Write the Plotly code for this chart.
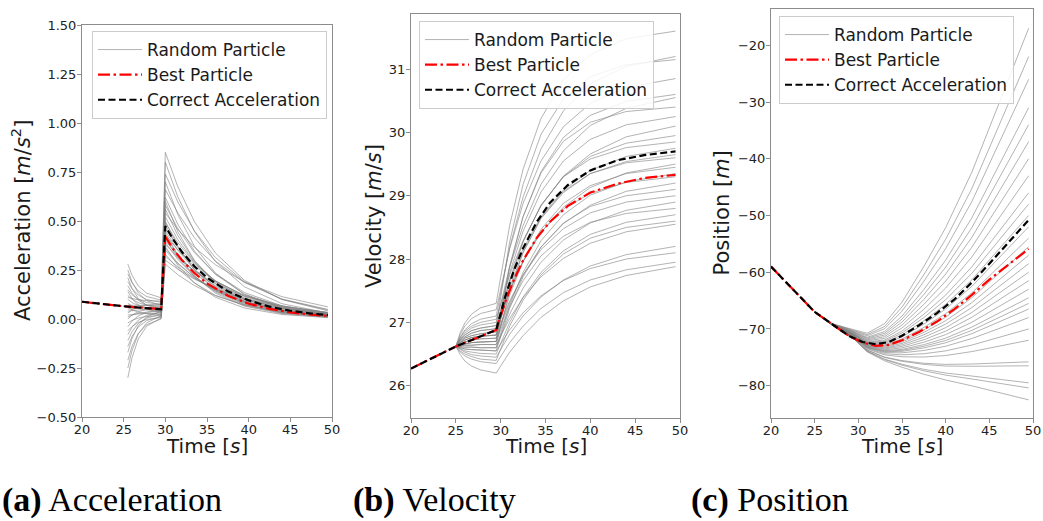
import plotly.graph_objects as go

W, H = 1043, 521

# ---------------- data ----------------
TIME_TICKS = [20, 25, 30, 35, 40, 45, 50]

# (a) Acceleration
ACC_TIME = [20, 25, 29.5, 30, 31, 32, 33.5, 35, 37.5, 40, 42.5, 45, 47.5, 49.5]
ACC_CORRECT = [0.088, 0.065, 0.049, 0.474, 0.402, 0.342, 0.268, 0.211, 0.141, 0.095, 0.063, 0.042, 0.028, 0.020]
ACC_BEST = [0.088, 0.065, 0.050, 0.420, 0.354, 0.300, 0.234, 0.182, 0.119, 0.078, 0.052, 0.034, 0.022, 0.016]
ACC_RANDOM_TIME = [25.5, 26, 26.75, 27.75, 29.5, 30, 31.5, 33.5, 36, 39.5, 44, 49.5]
ACC_RANDOM = [
    [0.28, 0.223, 0.169, 0.132, 0.108, 0.85, 0.675, 0.496, 0.337, 0.197, 0.099, 0.042],
    [0.25, 0.189, 0.133, 0.094, 0.069, 0.80, 0.623, 0.446, 0.294, 0.164, 0.078, 0.031],
    [0.23, 0.185, 0.143, 0.115, 0.096, 0.74, 0.597, 0.449, 0.314, 0.190, 0.100, 0.046],
    [0.21, 0.156, 0.105, 0.070, 0.048, 0.70, 0.533, 0.370, 0.235, 0.125, 0.055, 0.020],
    [0.19, 0.155, 0.122, 0.099, 0.085, 0.66, 0.541, 0.414, 0.296, 0.186, 0.102, 0.049],
    [0.17, 0.132, 0.096, 0.071, 0.056, 0.62, 0.483, 0.346, 0.228, 0.127, 0.060, 0.024],
    [0.15, 0.124, 0.101, 0.084, 0.074, 0.60, 0.445, 0.298, 0.181, 0.090, 0.037, 0.012],
    [0.14, 0.105, 0.072, 0.049, 0.035, 0.58, 0.461, 0.338, 0.230, 0.135, 0.067, 0.029],
    [0.12, 0.101, 0.083, 0.071, 0.063, 0.56, 0.426, 0.296, 0.188, 0.100, 0.044, 0.016],
    [0.11, 0.104, 0.098, 0.094, 0.091, 0.54, 0.457, 0.366, 0.277, 0.188, 0.114, 0.062],
    [0.10, 0.084, 0.069, 0.059, 0.052, 0.52, 0.405, 0.290, 0.191, 0.107, 0.050, 0.020],
    [0.08, 0.067, 0.055, 0.047, 0.042, 0.50, 0.371, 0.249, 0.151, 0.075, 0.031, 0.010],
    [0.07, 0.070, 0.070, 0.070, 0.070, 0.49, 0.389, 0.286, 0.195, 0.114, 0.057, 0.025],
    [0.06, 0.047, 0.035, 0.027, 0.022, 0.48, 0.365, 0.254, 0.161, 0.085, 0.037, 0.014],
    [0.05, 0.053, 0.056, 0.058, 0.060, 0.46, 0.371, 0.279, 0.195, 0.118, 0.062, 0.028],
    [0.04, 0.043, 0.046, 0.048, 0.050, 0.45, 0.351, 0.251, 0.166, 0.092, 0.044, 0.018],
    [0.03, 0.046, 0.061, 0.071, 0.078, 0.44, 0.326, 0.219, 0.132, 0.066, 0.027, 0.009],
    [0.02, 0.023, 0.026, 0.028, 0.030, 0.43, 0.352, 0.270, 0.193, 0.121, 0.067, 0.032],
    [0.01, 0.020, 0.029, 0.035, 0.039, 0.42, 0.327, 0.234, 0.155, 0.086, 0.041, 0.016],
    [0.00, 0.019, 0.037, 0.049, 0.057, 0.41, 0.312, 0.217, 0.138, 0.073, 0.032, 0.012],
    [-0.02, -0.007, 0.005, 0.013, 0.018, 0.40, 0.323, 0.243, 0.170, 0.103, 0.054, 0.025],
    [-0.04, -0.011, 0.016, 0.034, 0.046, 0.39, 0.304, 0.218, 0.144, 0.080, 0.038, 0.015],
    [-0.06, -0.038, -0.017, -0.002, 0.007, 0.38, 0.315, 0.245, 0.179, 0.116, 0.066, 0.033],
    [-0.08, -0.042, -0.006, 0.019, 0.034, 0.37, 0.274, 0.184, 0.111, 0.056, 0.023, 0.007],
    [-0.11, -0.065, -0.023, 0.005, 0.024, 0.36, 0.286, 0.210, 0.143, 0.084, 0.042, 0.018],
    [-0.14, -0.089, -0.041, -0.008, 0.013, 0.35, 0.282, 0.212, 0.148, 0.090, 0.047, 0.022],
    [-0.17, -0.100, -0.034, 0.011, 0.040, 0.33, 0.257, 0.184, 0.121, 0.068, 0.032, 0.013],
    [-0.21, -0.140, -0.074, -0.029, 0.000, 0.32, 0.265, 0.207, 0.151, 0.098, 0.056, 0.028],
    [-0.25, -0.161, -0.077, -0.020, 0.017, 0.30, 0.254, 0.203, 0.154, 0.104, 0.063, 0.034],
    [-0.30, -0.198, -0.102, -0.037, 0.005, 0.28, 0.226, 0.170, 0.119, 0.072, 0.038, 0.017],
]
ACC_TICKS = [-0.5, -0.25, 0.0, 0.25, 0.5, 0.75, 1.0, 1.25, 1.5]
ACC_TICKTEXT = ["\u22120.50", "\u22120.25", "0.00", "0.25", "0.50", "0.75", "1.00", "1.25", "1.50"]

# (b) Velocity
VEL_TIME = [20, 25, 29.5, 30.5, 31.5, 32.5, 34, 35.5, 37.5, 40, 43, 46, 49.5]
VEL_CORRECT = [26.27, 26.62, 26.88, 27.40, 27.83, 28.17, 28.58, 28.89, 29.17, 29.40, 29.56, 29.64, 29.70]
VEL_BEST = [26.27, 26.62, 26.88, 27.32, 27.68, 27.98, 28.33, 28.59, 28.84, 29.05, 29.19, 29.28, 29.33]
VEL_RANDOM_TIME = [25, 25.5, 26, 26.75, 27.75, 29.5, 31, 32.5, 34.5, 37, 40, 44, 49.5]
VEL_RANDOM = [
    [26.62, 26.84, 26.99, 27.13, 27.23, 27.30, 28.53, 29.42, 30.22, 30.83, 31.23, 31.48, 31.60],
    [26.62, 26.77, 26.88, 26.98, 27.05, 27.10, 28.18, 28.98, 29.74, 30.34, 30.77, 31.04, 31.20],
    [26.62, 26.73, 26.80, 26.87, 26.91, 26.95, 28.27, 29.18, 29.97, 30.53, 30.88, 31.07, 31.15],
    [26.62, 26.81, 26.94, 27.06, 27.14, 27.20, 28.16, 28.88, 29.55, 30.09, 30.46, 30.71, 30.85],
    [26.62, 26.68, 26.72, 26.76, 26.78, 26.80, 27.89, 28.67, 29.38, 29.92, 30.27, 30.49, 30.60],
    [26.62, 26.74, 26.83, 26.91, 26.96, 27.00, 27.87, 28.53, 29.18, 29.71, 30.11, 30.38, 30.55],
    [26.62, 26.65, 26.66, 26.68, 26.69, 26.70, 27.87, 28.67, 29.36, 29.86, 30.16, 30.33, 30.40],
    [26.62, 26.71, 26.77, 26.83, 26.87, 26.90, 27.78, 28.44, 29.06, 29.55, 29.89, 30.12, 30.25],
    [26.62, 26.76, 26.86, 26.94, 27.00, 27.05, 27.75, 28.29, 28.84, 29.31, 29.66, 29.93, 30.10],
    [26.62, 26.69, 26.75, 26.79, 26.82, 26.85, 27.67, 28.27, 28.85, 29.30, 29.62, 29.83, 29.95],
    [26.62, 26.66, 26.69, 26.72, 26.74, 26.75, 27.64, 28.28, 28.85, 29.30, 29.58, 29.76, 29.85],
    [26.62, 26.73, 26.80, 26.87, 26.91, 26.95, 27.64, 28.16, 28.67, 29.09, 29.40, 29.62, 29.75],
    [26.62, 26.68, 26.72, 26.76, 26.78, 26.80, 27.55, 28.11, 28.64, 29.05, 29.35, 29.54, 29.65],
    [26.62, 26.63, 26.64, 26.64, 26.65, 26.65, 27.49, 28.10, 28.65, 29.07, 29.35, 29.52, 29.60],
    [26.62, 26.71, 26.77, 26.83, 26.87, 26.90, 27.50, 27.96, 28.42, 28.82, 29.13, 29.36, 29.50],
    [26.62, 26.65, 26.66, 26.68, 26.69, 26.70, 27.43, 27.96, 28.47, 28.88, 29.16, 29.35, 29.45],
    [26.62, 26.61, 26.61, 26.61, 26.60, 26.60, 27.27, 27.79, 28.29, 28.70, 29.01, 29.22, 29.35],
    [26.62, 26.69, 26.75, 26.79, 26.82, 26.85, 27.50, 27.97, 28.43, 28.79, 29.04, 29.21, 29.30],
    [26.62, 26.66, 26.69, 26.72, 26.74, 26.75, 27.31, 27.75, 28.19, 28.56, 28.85, 29.07, 29.20],
    [26.62, 26.60, 26.58, 26.57, 26.56, 26.55, 27.22, 27.72, 28.19, 28.57, 28.83, 29.00, 29.10],
    [26.62, 26.68, 26.72, 26.76, 26.78, 26.80, 27.34, 27.75, 28.15, 28.48, 28.73, 28.90, 29.00],
    [26.62, 26.61, 26.61, 26.61, 26.60, 26.60, 27.13, 27.54, 27.95, 28.30, 28.57, 28.77, 28.90],
    [26.62, 26.65, 26.66, 26.68, 26.69, 26.70, 27.25, 27.66, 28.05, 28.36, 28.58, 28.72, 28.80],
    [26.62, 26.58, 26.55, 26.53, 26.51, 26.50, 27.00, 27.40, 27.79, 28.13, 28.39, 28.58, 28.70],
    [26.62, 26.63, 26.64, 26.64, 26.65, 26.65, 27.06, 27.39, 27.72, 28.01, 28.25, 28.43, 28.55],
    [26.62, 26.57, 26.53, 26.49, 26.47, 26.45, 26.81, 27.10, 27.40, 27.67, 27.89, 28.07, 28.20],
    [26.62, 26.60, 26.58, 26.57, 26.56, 26.55, 26.88, 27.15, 27.42, 27.66, 27.85, 28.00, 28.10],
    [26.62, 26.53, 26.47, 26.42, 26.38, 26.35, 26.68, 26.94, 27.22, 27.47, 27.67, 27.83, 27.95],
    [26.62, 26.49, 26.39, 26.31, 26.25, 26.20, 26.53, 26.79, 27.08, 27.34, 27.56, 27.74, 27.88],
    [26.62, 26.55, 26.50, 26.46, 26.42, 26.40, 26.94, 27.35, 27.75, 28.08, 28.33, 28.50, 28.60],
]
VEL_TICKS = [26, 27, 28, 29, 30, 31]

# (c) Position
POS_TIME = [20, 22.5, 25, 27.5, 29, 30.5, 32, 33.5, 35, 37, 39, 41, 43, 45, 47, 49.5]
POS_CORRECT = [-59.0, -63.0, -67.0, -69.7, -71.3, -72.3, -72.7, -72.3, -71.2, -69.3, -67.2, -64.8, -61.8, -58.5, -55.1, -50.8]
POS_BEST = [-59.0, -63.0, -67.0, -69.7, -71.3, -72.4, -73.0, -72.8, -72.0, -70.5, -68.7, -66.5, -64.0, -61.3, -58.9, -55.9]
POS_RANDOM_TIME = [25, 27, 29.5, 31, 33, 35, 37.5, 40, 43, 46, 49.5]
POS_RANDOM = [
    [-67.0, -69.06, -70.15, -70.76, -69.07, -65.28, -59.00, -52.14, -42.36, -30.77, -17.0],
    [-67.0, -69.08, -70.28, -71.01, -69.57, -66.16, -60.45, -54.19, -45.24, -34.62, -22.0],
    [-67.0, -69.10, -70.38, -71.21, -69.97, -66.86, -61.61, -55.83, -47.54, -37.70, -26.0],
    [-67.0, -69.12, -70.50, -71.46, -70.47, -67.73, -63.06, -57.88, -50.41, -41.55, -31.0],
    [-67.0, -69.13, -70.58, -71.61, -70.77, -68.26, -63.93, -59.11, -52.14, -43.86, -34.0],
    [-67.0, -69.14, -70.65, -71.76, -71.07, -68.78, -64.80, -60.34, -53.86, -46.17, -37.0],
    [-67.0, -69.16, -70.73, -71.91, -71.37, -69.31, -65.67, -61.57, -55.59, -48.48, -40.0],
    [-67.0, -69.17, -70.80, -72.06, -71.67, -69.83, -66.54, -62.80, -57.31, -50.79, -43.0],
    [-67.0, -69.18, -70.88, -72.21, -71.97, -70.36, -67.41, -64.03, -59.04, -53.10, -46.0],
    [-67.0, -69.19, -70.93, -72.31, -72.17, -70.71, -67.99, -64.85, -60.19, -54.64, -48.0],
    [-67.0, -69.20, -70.98, -72.41, -72.37, -71.06, -68.57, -65.67, -61.34, -56.18, -50.0],
    [-67.0, -69.20, -71.03, -72.51, -72.57, -71.41, -69.15, -66.49, -62.49, -57.72, -52.0],
    [-67.0, -69.21, -71.08, -72.61, -72.77, -71.76, -69.73, -67.31, -63.64, -59.26, -54.0],
    [-67.0, -69.22, -71.12, -72.69, -72.92, -72.02, -70.16, -67.93, -64.50, -60.42, -55.5],
    [-67.0, -69.22, -71.16, -72.76, -73.07, -72.29, -70.60, -68.54, -65.37, -61.57, -57.0],
    [-67.0, -69.23, -71.19, -72.84, -73.22, -72.55, -71.03, -69.16, -66.23, -62.73, -58.5],
    [-67.0, -69.24, -71.23, -72.91, -73.37, -72.81, -71.47, -69.77, -67.09, -63.88, -60.0],
    [-67.0, -69.24, -71.27, -72.99, -73.52, -73.07, -71.90, -70.39, -67.95, -65.04, -61.5],
    [-67.0, -69.25, -71.31, -73.06, -73.67, -73.34, -72.34, -71.00, -68.82, -66.19, -63.0],
    [-67.0, -69.25, -71.34, -73.14, -73.82, -73.60, -72.77, -71.62, -69.68, -67.35, -64.5],
    [-67.0, -69.26, -71.37, -73.19, -73.92, -73.77, -73.06, -72.03, -70.25, -68.12, -65.5],
    [-67.0, -69.26, -71.39, -73.24, -74.02, -73.95, -73.35, -72.44, -70.83, -68.89, -66.5],
    [-67.0, -69.27, -71.43, -73.31, -74.17, -74.21, -73.79, -73.05, -71.69, -70.04, -68.0],
    [-67.0, -69.28, -71.48, -73.41, -74.37, -74.56, -74.37, -73.87, -72.84, -71.58, -70.0],
    [-67.0, -69.28, -71.53, -73.51, -74.57, -74.91, -74.95, -74.69, -73.99, -73.12, -72.0],
    [-67.0, -69.30, -71.63, -73.70, -74.95, -75.58, -76.05, -76.25, -76.18, -76.05, -75.8],
    [-67.0, -69.30, -71.64, -73.74, -75.02, -75.70, -76.25, -76.54, -76.58, -76.59, -76.5],
    [-67.0, -69.31, -71.72, -73.89, -75.32, -76.22, -77.12, -77.77, -78.30, -78.90, -79.5],
    [-67.0, -69.33, -71.79, -74.04, -75.62, -76.75, -77.99, -79.00, -80.03, -81.21, -82.5],
    [-67.0, -69.32, -71.74, -73.93, -75.41, -76.38, -77.38, -78.14, -78.82, -79.59, -80.4],
]
POS_TICKS = [-80, -70, -60, -50, -40, -30, -20]
POS_TICKTEXT = ["\u221280", "\u221270", "\u221260", "\u221250", "\u221240", "\u221230", "\u221220"]

LEGEND_NAMES = ["Random Particle", "Best Particle", "Correct Acceleration"]
Y_TITLES = ["Acceleration [<i>m</i>/<i>s</i><sup>2</sup>]", "Velocity [<i>m</i>/<i>s</i>]", "Position [<i>m</i>]"]
CAPTIONS = ["<b>(a)</b> Acceleration", "<b>(b)</b> Velocity", "<b>(c)</b> Position"]

# ---------------- styling / layout ----------------
GRAY = "rgba(128,128,128,0.6)"
FRAME = "#8c8c8c"
FONT = "DejaVu Sans"

# pixel boxes of the three plot areas: (left, right, top, bottom)
BOXES = [(82, 332, 25, 417), (411, 680, 14, 418), (771, 1033, 9, 418)]
LEGEND_POS = [(92, 31), (419, 21), (779, 16)]
YTITLE_X = [21, 374, 722]
CAPTION_X = [0, 351, 689]

fig = go.Figure()


def add_panel(i, rand_t, rand_rows, t, best, correct):
    sfx = "" if i == 0 else str(i + 1)
    xa, ya, lg = "x" + sfx, "y" + sfx, "legend" + sfx
    for k, row in enumerate(rand_rows):
        fig.add_trace(go.Scatter(
            x=rand_t, y=row, mode="lines", line=dict(color=GRAY, width=1),
            name=LEGEND_NAMES[0], legendgroup="r" + sfx, showlegend=(k == 0),
            legend=lg, xaxis=xa, yaxis=ya, hoverinfo="skip"))
    fig.add_trace(go.Scatter(
        x=t, y=best, mode="lines",
        line=dict(color="#ff0000", width=2.2, dash="12px,3.5px,2.5px,3.5px"),
        name=LEGEND_NAMES[1], legendgroup="b" + sfx, legend=lg, xaxis=xa, yaxis=ya))
    fig.add_trace(go.Scatter(
        x=t, y=correct, mode="lines",
        line=dict(color="#000000", width=2.2, dash="7px,3.5px"),
        name=LEGEND_NAMES[2], legendgroup="c" + sfx, legend=lg, xaxis=xa, yaxis=ya))


add_panel(0, ACC_RANDOM_TIME, ACC_RANDOM, ACC_TIME, ACC_BEST, ACC_CORRECT)
add_panel(1, VEL_RANDOM_TIME, VEL_RANDOM, VEL_TIME, VEL_BEST, VEL_CORRECT)
add_panel(2, POS_RANDOM_TIME, POS_RANDOM, POS_TIME, POS_BEST, POS_CORRECT)

axis_common = dict(
    showline=True, linecolor=FRAME, linewidth=1, mirror=True,
    ticks="outside", ticklen=4, tickwidth=1, tickcolor=FRAME,
    tickfont=dict(family=FONT, size=13, color="#222222"),
    showgrid=False, zeroline=False, fixedrange=True, automargin=False,
)

y_ranges = [[-0.5, 1.5], [25.49, 31.87], [-85.7, -13.6]]
y_tickvals = [ACC_TICKS, VEL_TICKS, POS_TICKS]
y_ticktext = [ACC_TICKTEXT, [str(v) for v in VEL_TICKS], POS_TICKTEXT]

layout = dict(
    width=W, height=H, margin=dict(l=0, r=0, t=0, b=0, pad=0, autoexpand=False),
    paper_bgcolor="white", plot_bgcolor="white",
    font=dict(family=FONT, color="#1a1a1a"),
    annotations=[],
)

for i, (l, r, t, b) in enumerate(BOXES):
    sfx = "" if i == 0 else str(i + 1)
    layout["xaxis" + sfx] = dict(
        axis_common, domain=[l / W, r / W], range=[20, 50],
        tickvals=TIME_TICKS, anchor="y" + sfx, ticklabelstandoff=-4)
    layout["yaxis" + sfx] = dict(
        axis_common, domain=[1 - b / H, 1 - t / H], range=y_ranges[i],
        tickvals=y_tickvals[i], ticktext=y_ticktext[i], anchor="x" + sfx,
        ticklabelstandoff=-2)
    lx, ly = LEGEND_POS[i]
    layout["legend" + sfx] = dict(
        x=lx / W, y=1 - ly / H, xanchor="left", yanchor="top",
        bgcolor="rgba(255,255,255,0.85)", bordercolor="#cccccc", borderwidth=1,
        font=dict(family=FONT, size=17, color="#1a1a1a"),
        tracegroupgap=0, itemwidth=44)
    # x title
    layout["annotations"].append(dict(
        text="Time [<i>s</i>]", xref="paper", yref="paper",
        x=(l + r) / 2 / W, y=1 - 446 / H, xanchor="center", yanchor="middle",
        showarrow=False, font=dict(family=FONT, size=20, color="#1a1a1a")))
    # y title
    layout["annotations"].append(dict(
        text=Y_TITLES[i], xref="paper", yref="paper", textangle=-90,
        x=YTITLE_X[i] / W, y=1 - (t + b) / 2 / H, xanchor="center", yanchor="middle",
        showarrow=False, font=dict(family=FONT, size=21, color="#1a1a1a")))
    # caption
    layout["annotations"].append(dict(
        text=CAPTIONS[i], xref="paper", yref="paper",
        x=CAPTION_X[i] / W, y=1 - 500 / H, xanchor="left", yanchor="middle",
        showarrow=False, font=dict(family="Liberation Serif", size=34, color="#000000")))

fig.update_layout(**layout)
fig.write_html(
    "out.html",
    config={"displayModeBar": False},
    post_script="document.body.style.margin='0';document.body.style.overflow='hidden';",
)
